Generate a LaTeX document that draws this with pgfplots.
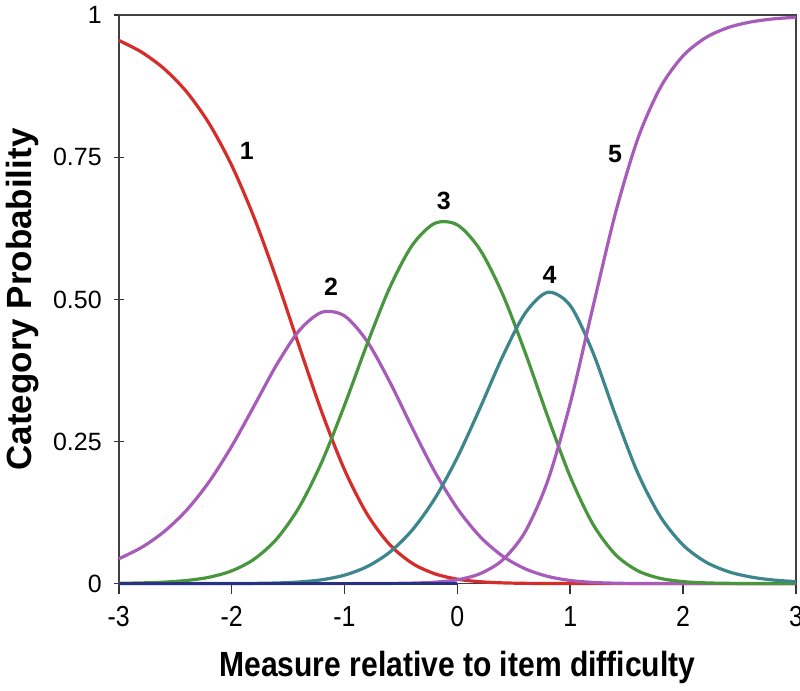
\documentclass[border=0pt]{standalone}
\usepackage{fontspec}
\setmainfont{Liberation Sans}
\newfontfamily\narrowsf[FakeStretch=0.86]{Liberation Sans}
\usepackage{pgfplots}
\usepackage{pgfplotstable}
\pgfplotsset{compat=1.18}

\definecolor{cRed}{RGB}{214,45,42}
\definecolor{cPurple}{RGB}{168,92,186}
\definecolor{cGreen}{RGB}{72,150,62}
\definecolor{cTeal}{RGB}{60,134,140}
\definecolor{cNavy}{RGB}{40,50,130}

% category probability curves, every 0.2 logits
\pgfplotstableread{
x     p1      p2      p3      p4      p5
-3.0  0.9557  0.0437  0.0006  0.0000  0.0000
-2.8  0.9354  0.0634  0.0012  0.0000  0.0000
-2.6  0.9062  0.0912  0.0026  0.0000  0.0000
-2.4  0.8655  0.1290  0.0055  0.0000  0.0000
-2.2  0.8097  0.1790  0.0112  0.0001  0.0000
-2.0  0.7361  0.2414  0.0224  0.0001  0.0000
-1.8  0.6435  0.3130  0.0431  0.0004  0.0000
-1.6  0.5346  0.3855  0.0788  0.0011  0.0000
-1.4  0.4166  0.4455  0.1350  0.0029  0.0000
-1.2  0.3011  0.4775  0.2145  0.0068  0.0000
-1.0  0.2003  0.4710  0.3138  0.0149  0.0000
-0.8  0.1223  0.4264  0.4213  0.0299  0.0001
-0.6  0.0687  0.3553  0.5205  0.0552  0.0003
-0.4  0.0357  0.2740  0.5953  0.0942  0.0009
-0.2  0.0173  0.1967  0.6339  0.1496  0.0025
 0.0  0.0078  0.1321  0.6311  0.2222  0.0068
 0.2  0.0033  0.0829  0.5877  0.3086  0.0174
 0.4  0.0013  0.0485  0.5095  0.3992  0.0415
 0.6  0.0005  0.0261  0.4069  0.4756  0.0910
 0.8  0.0002  0.0127  0.2940  0.5125  0.1806
 1.0  0.0000  0.0055  0.1880  0.4892  0.3172
 1.2  0.0000  0.0021  0.1049  0.4071  0.4859
 1.4  0.0000  0.0007  0.0512  0.2966  0.6515
 1.6  0.0000  0.0002  0.0224  0.1938  0.7836
 1.8  0.0000  0.0001  0.0091  0.1174  0.8734
 2.0  0.0000  0.0000  0.0035  0.0678  0.9287
 2.2  0.0000  0.0000  0.0013  0.0381  0.9605
 2.4  0.0000  0.0000  0.0005  0.0211  0.9784
 2.6  0.0000  0.0000  0.0002  0.0116  0.9882
 2.8  0.0000  0.0000  0.0001  0.0063  0.9936
 3.0  0.0000  0.0000  0.0000  0.0035  0.9965
}\probs

\begin{document}
\begin{tikzpicture}
\begin{axis}[
  scale only axis,
  width=339pt, height=284.5pt,
  xmin=-3, xmax=3, ymin=0, ymax=1,
  xtick={-3,-2,-1,0,1,2,3},
  xticklabels={-3,-2,-1,0,1,2,3},
  ytick={0,0.25,0.5,0.75,1},
  yticklabels={0,0.25,0.50,0.75,1},
  xtick pos=left, ytick pos=left,
  tick align=outside,
  major tick length=5pt,
  ytick style={xshift=2.5pt},
  tick style={black!80, line width=0.8pt},
  axis line style={black!75, line width=0.8pt},
  yticklabel style={font=\fontsize{12.5}{14}\selectfont},
  xticklabel style={font=\narrowsf\fontsize{14.5}{16}\selectfont, yshift=-3pt, overlay},
  xlabel={Measure relative to item difficulty},
  ylabel={Category Probability},
  xlabel style={font=\narrowsf\fontsize{17.5}{20}\selectfont\bfseries, yshift=-5pt},
  ylabel style={font=\fontsize{17.5}{20}\selectfont\bfseries},
  clip=false,
  every axis plot/.append style={line width=1.6pt, smooth},
]
\addplot[cRed] table[x=x, y=p1] {\probs};
\addplot[cPurple] table[x=x, y=p2] {\probs};
\addplot[cGreen] table[x=x, y=p3] {\probs};
\addplot[cTeal] table[x=x, y=p4] {\probs};
\addplot[cPurple] table[x=x, y=p5] {\probs};
\addplot[cNavy, line width=1.2pt] coordinates {(-3,0) (0,0)};

\begin{scope}[font=\fontsize{12.5}{14}\selectfont\bfseries]
\node at (axis cs:-1.865,0.762) {1};
\node at (axis cs:-1.118,0.522) {2};
\node at (axis cs:-0.121,0.673) {3};
\node at (axis cs:0.817,0.543) {4};
\node at (axis cs:1.398,0.756) {5};
\end{scope}
\end{axis}
% small margin right of the frame
\path ([xshift=2pt]current axis.east);
\end{tikzpicture}
\end{document}
